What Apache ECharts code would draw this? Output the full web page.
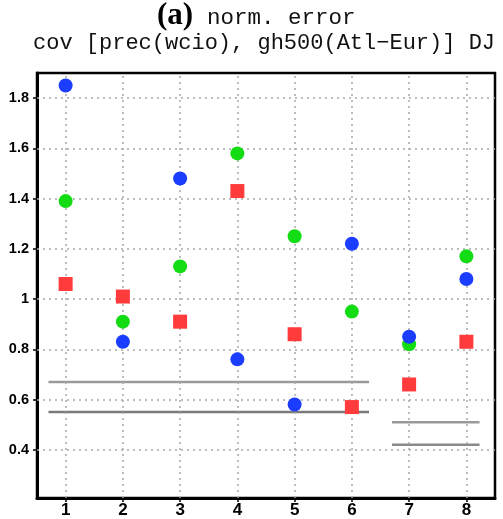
<!DOCTYPE html>
<html><head><meta charset="utf-8">
<script src="https://cdn.jsdelivr.net/npm/echarts@6/dist/echarts.min.js"></script>
<style>html,body{margin:0;padding:0;background:#fff}#c{width:503px;height:519px}</style>
</head><body><div id="c"></div>
<script>
const categories = [1, 2, 3, 4, 5, 6, 7, 8];
const blueValues  = [1.85, 0.83, 1.48, 0.76, 0.58, 1.22, 0.85, 1.08];
const greenValues = [1.39, 0.91, 1.13, 1.58, 1.25, 0.95, 0.82, 1.17];
const redValues   = [1.06, 1.01, 0.91, 1.43, 0.86, 0.57, 0.66, 0.83];
const yTicks = [0.4, 0.6, 0.8, 1, 1.2, 1.4, 1.6, 1.8];
// reference segments: [xStart, xEnd, y]
const refSegA1 = [0.7, 6.3, 0.67];
const refSegA2 = [0.7, 6.3, 0.55];
const refSegB1 = [6.7, 8.23, 0.51];
const refSegB2 = [6.7, 8.23, 0.42];

const chart = echarts.init(document.getElementById('c'));
const pair = (arr) => categories.map((c, i) => [c, arr[i]]);
const seg = (s) => [[s[0], s[2]], [s[1], s[2]]];
const gridDot = {color: '#a8a8a8', width: 1.5, type: [2, 4]};
const segLine = (s, color, w) => ({
  type: 'line', data: seg(s), symbol: 'none', silent: true, z: 3,
  lineStyle: {color: color, width: w}
});
const lab = (v) => (Math.round(v * 10) / 10).toString();

chart.setOption({
  animation: false,
  backgroundColor: '#fff',
  graphic: [
    {type: 'text', x: 157, y: 16, style: {
      text: '(a)', align: 'left', verticalAlign: 'middle',
      font: 'bold 31px "Liberation Serif"', fill: '#000'}},
    {type: 'text', x: 207, y: 18.5, style: {
      text: 'norm. error', align: 'left', verticalAlign: 'middle',
      font: '22.5px "Liberation Mono"', fill: '#111'}},
    {type: 'text', x: 33, y: 43.5, style: {
      text: 'cov [prec(wcio), gh500(Atl\u2212Eur)] DJ', align: 'left', verticalAlign: 'middle',
      font: '22px "Liberation Mono"', fill: '#111'}}
  ],
  grid: {left: 37, top: 73, right: 8, bottom: 21, show: true, borderColor: '#000', borderWidth: 2.5},
  xAxis: {
    type: 'value', min: 0.5, max: 8.5,
    axisLine: {show: true, lineStyle: {color: '#000', width: 3}},
    axisTick: {show: true, customValues: categories, length: 4, lineStyle: {color: '#000', width: 1.5}},
    axisLabel: {customValues: categories, color: '#000', fontWeight: 'bold', fontSize: 17,
      fontFamily: '"Liberation Sans Narrow", "Liberation Sans"', margin: 4},
    splitLine: {show: false}
  },
  yAxis: {
    type: 'value', min: 0.208, max: 1.9,
    axisLine: {show: true, lineStyle: {color: '#000', width: 3}},
    axisTick: {show: true, customValues: yTicks, length: 4, lineStyle: {color: '#000', width: 1.5}},
    axisLabel: {customValues: yTicks, color: '#000', fontWeight: 'bold', fontSize: 14.5,
      fontFamily: 'Liberation Sans', margin: 8, formatter: lab},
    splitLine: {show: false}
  },
  series: [
    {type: 'line', data: [], silent: true, z: 1,
      markLine: {symbol: 'none', silent: true, label: {show: false}, lineStyle: gridDot,
        data: categories.map(c => ({xAxis: c})).concat(yTicks.map(v => ({yAxis: v})))}},
    segLine(refSegA1, '#9a9a9a', 2.5),
    segLine(refSegA2, '#7a7a7a', 2.5),
    segLine(refSegB1, '#9a9a9a', 2.5),
    segLine(refSegB2, '#8a8a8a', 2.5),
    {type: 'scatter', data: pair(redValues), symbol: 'rect', symbolSize: 14, z: 5,
      itemStyle: {color: '#ff3b3b', opacity: 1}},
    {type: 'scatter', data: pair(greenValues), symbol: 'circle', symbolSize: 14, z: 5,
      itemStyle: {color: '#14dc14', opacity: 1}},
    {type: 'scatter', data: pair(blueValues), symbol: 'circle', symbolSize: 14, z: 6,
      itemStyle: {color: '#1a3dff', opacity: 1}}
  ]
});
</script></body></html>
